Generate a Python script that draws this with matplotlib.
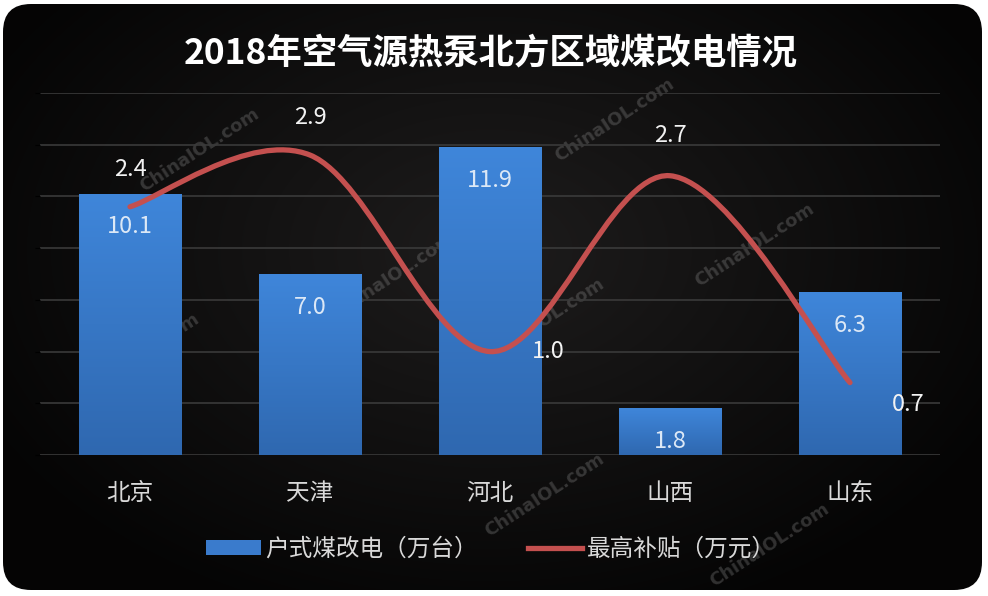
import numpy as np
import matplotlib
matplotlib.use("Agg")
import matplotlib.pyplot as plt
from matplotlib.patches import FancyBboxPatch, Patch
from matplotlib.lines import Line2D
from matplotlib.path import Path
from matplotlib.patches import PathPatch
from matplotlib.colors import LinearSegmentedColormap

plt.rcParams['font.family'] = ['Noto Sans CJK SC', 'DejaVu Sans']

# data
regions = ['北京', '天津', '河北', '山西', '山东']
units = [10.1, 7.0, 11.9, 1.8, 6.3]       # 户式煤改电（万台）
subsidy = [2.4, 2.9, 1.0, 2.7, 0.7]       # 最高补贴（万元）
title = '2018年空气源热泵北方区域煤改电情况'
bar_name = '户式煤改电（万台）'
line_name = '最高补贴（万元）'
watermark = 'ChinaIOL.com'

fig = plt.figure(figsize=(9.88, 5.96), dpi=100, facecolor='white')

# dark rounded background with a soft radial glow
bg = fig.add_axes([0, 0, 1, 1])
bg.set_xlim(0, 988)
bg.set_ylim(596, 0)
bg.axis('off')
yy, xx = np.mgrid[0:596, 0:988]
r = np.sqrt(((xx - 490) / 560.0) ** 2 + ((yy - 250) / 380.0) ** 2)
shade = np.clip(0.115 - 0.095 * r, 0.02, 0.12)
rgb = np.dstack([shade * 1.02, shade * 0.97, shade * 0.97])
im = bg.imshow(rgb, extent=(0, 988, 596, 0), interpolation='bilinear')
box = FancyBboxPatch((3, 4), 979, 586, boxstyle='round,pad=0,rounding_size=28',
                     transform=bg.transData, facecolor='none', edgecolor='none')
bg.add_patch(box)
im.set_clip_path(box)

# watermarks (behind bars)
wm_pos = [(200, 150), (615, 120), (755, 245), (140, 355), (395, 275),
          (545, 320), (545, 495), (770, 545)]
for (wx, wy) in wm_pos:
    bg.text(wx, wy, watermark, rotation=33, ha='center', va='center',
            fontsize=13, fontweight='bold', color='#8a8a8a', alpha=0.33,
            family='DejaVu Sans')

ax = fig.add_axes([40 / 988, 1 - 455 / 596, 900 / 988, (455 - 93) / 596])
ax.patch.set_alpha(0)
x = np.arange(len(regions))
ax.set_yticks(np.arange(0, 15, 2))
ax.grid(axis='y', color='#3a3a3a', linewidth=1.2)
ax.set_axisbelow(True)
for s in ax.spines.values():
    s.set_visible(False)
ax.tick_params(left=False, bottom=False, labelleft=False)
ax.set_xticks(x)
ax.set_xticklabels(regions, fontsize=17, color='#d9d9d9')
ax.tick_params(axis='x', pad=16)

bars = ax.bar(x, units, width=0.57, color='#3a7bcc', zorder=2)
grad = np.linspace(0, 1, 256).reshape(-1, 1)
cmap = LinearSegmentedColormap.from_list('b', ['#2f68b0', '#3f86da'])
for b in bars:
    gi = ax.imshow(grad, cmap=cmap, origin='lower', aspect='auto', zorder=2.1,
                   extent=(b.get_x(), b.get_x() + b.get_width(), 0, b.get_height()))
    gi.set_clip_path(b)
for xi, v in zip(x, units):
    ax.annotate(f'{v:.1f}', (xi, v), xytext=(0, -33), textcoords='offset pixels',
                ha='center', va='center', fontsize=17, color='#dce8f6', zorder=4)
ax.set_xlim(-0.5, len(regions) - 0.5)
ax.set_ylim(0, 14)

ax2 = ax.twinx()
ax2.set_ylim(0, 3.5)
ax2.axis('off')
# smooth line (Catmull-Rom style bezier through the points)
pts = np.column_stack([x, subsidy]).astype(float)
verts = [tuple(pts[0])]
codes = [Path.MOVETO]
for i in range(len(pts) - 1):
    p0 = pts[i - 1] if i > 0 else pts[i]
    p1 = pts[i]
    p2 = pts[i + 1]
    p3 = pts[i + 2] if i + 2 < len(pts) else pts[i + 1]
    c1 = p1 + (p2 - p0) / 6.0
    c2 = p2 - (p3 - p1) / 6.0
    verts += [tuple(c1), tuple(c2), tuple(p2)]
    codes += [Path.CURVE4] * 3
ax2.add_patch(PathPatch(Path(verts, codes), facecolor='none', edgecolor='#c4504f',
                        linewidth=3.8, capstyle='round', zorder=5))
offsets = [(0, 37), (0, 38), (58, 0), (0, 40), (58, -22)]
for xi, v, off in zip(x, subsidy, offsets):
    ax2.annotate(f'{v:.1f}', (xi, v), xytext=off, textcoords='offset pixels',
                 ha='center', va='center', fontsize=17, color='#f2f2f2', zorder=6)

fig.text(0.497, 1 - 53 / 596, title, ha='center', va='center', fontsize=25.5,
         fontweight='bold', color='white')

handles = [Patch(facecolor='#3a7bcc', edgecolor='none'),
           Line2D([0], [0], color='#c4504f', linewidth=3.8)]
fig.legend(handles, [bar_name, line_name], loc='center', ncol=2,
           bbox_to_anchor=(0.497, 1 - 549 / 596), frameon=False, fontsize=17,
           labelcolor='#d9d9d9', handlelength=2.3, handleheight=0.6,
           handletextpad=0.2, columnspacing=2.1)

fig.savefig('out.png', dpi=100, facecolor='white')
